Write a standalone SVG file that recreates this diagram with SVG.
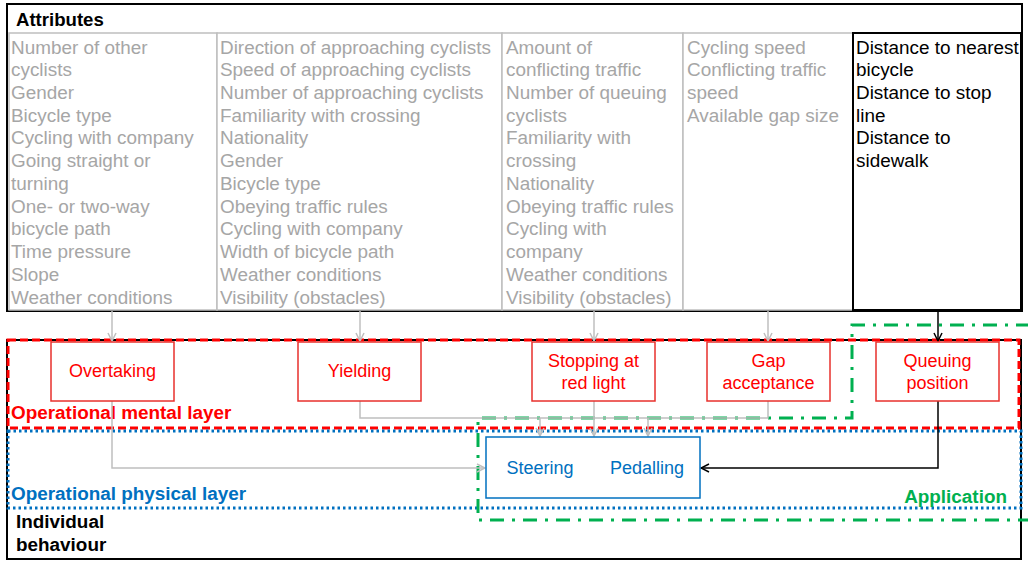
<svg xmlns="http://www.w3.org/2000/svg" width="1028" height="562" viewBox="0 0 1028 562">
<style>
text{font-family:"Liberation Sans",Arial,sans-serif;}
.attr{font-size:18.9px;fill:#a6a6a6;}
.attrb{font-size:18.9px;fill:#000;}
.hdr{font-size:18.6px;font-weight:bold;fill:#000;}
.col{fill:#fff;stroke:#bfbfbf;stroke-width:1.5;}
.node rect{fill:#fff;stroke:#e8302c;stroke-width:1.5;}
.node text{font-size:18px;fill:#ff0000;text-anchor:middle;}
.g{fill:none;stroke:#bfbfbf;stroke-width:1.5;}
.k{fill:none;stroke:#000;stroke-width:1.5;}
.lay{font-size:18.9px;font-weight:bold;}
</style>
<defs>
<marker id="ag" viewBox="0 0 10 10" refX="9" refY="5" markerWidth="10" markerHeight="10" markerUnits="userSpaceOnUse" orient="auto"><path d="M1,1 L9,5 L1,9" fill="none" stroke="#bfbfbf" stroke-width="1.5"/></marker>
<marker id="ak" viewBox="0 0 10 10" refX="9" refY="5" markerWidth="10" markerHeight="10" markerUnits="userSpaceOnUse" orient="auto"><path d="M1,1 L9,5 L1,9" fill="none" stroke="#000" stroke-width="1.5"/></marker>
</defs>

<g id="attributes">
<rect x="7" y="4" width="1015" height="307" fill="#fff" stroke="#000" stroke-width="2"/>
<text class="hdr" x="16" y="26">Attributes</text>
<rect class="col" x="9" y="33" width="208" height="277"/>
<rect class="col" x="217" y="33" width="285" height="277"/>
<rect class="col" x="502" y="33" width="181" height="277"/>
<rect class="col" x="683" y="33" width="170" height="277"/>
<rect x="853" y="33" width="168" height="277" fill="#fff" stroke="#000" stroke-width="2"/>
<text class="attr" x="11" y="53.5"><tspan x="11">Number of other</tspan><tspan x="11" dy="22.73">cyclists</tspan><tspan x="11" dy="22.73">Gender</tspan><tspan x="11" dy="22.73">Bicycle type</tspan><tspan x="11" dy="22.73">Cycling with company</tspan><tspan x="11" dy="22.73">Going straight or</tspan><tspan x="11" dy="22.73">turning</tspan><tspan x="11" dy="22.73">One- or two-way</tspan><tspan x="11" dy="22.73">bicycle path</tspan><tspan x="11" dy="22.73">Time pressure</tspan><tspan x="11" dy="22.73">Slope</tspan><tspan x="11" dy="22.73">Weather conditions</tspan></text>
<text class="attr" x="220" y="53.5"><tspan x="220">Direction of approaching cyclists</tspan><tspan x="220" dy="22.73">Speed of approaching cyclists</tspan><tspan x="220" dy="22.73">Number of approaching cyclists</tspan><tspan x="220" dy="22.73">Familiarity with crossing</tspan><tspan x="220" dy="22.73">Nationality</tspan><tspan x="220" dy="22.73">Gender</tspan><tspan x="220" dy="22.73">Bicycle type</tspan><tspan x="220" dy="22.73">Obeying traffic rules</tspan><tspan x="220" dy="22.73">Cycling with company</tspan><tspan x="220" dy="22.73">Width of bicycle path</tspan><tspan x="220" dy="22.73">Weather conditions</tspan><tspan x="220" dy="22.73">Visibility (obstacles)</tspan></text>
<text class="attr" x="506" y="53.5"><tspan x="506">Amount of</tspan><tspan x="506" dy="22.73">conflicting traffic</tspan><tspan x="506" dy="22.73">Number of queuing</tspan><tspan x="506" dy="22.73">cyclists</tspan><tspan x="506" dy="22.73">Familiarity with</tspan><tspan x="506" dy="22.73">crossing</tspan><tspan x="506" dy="22.73">Nationality</tspan><tspan x="506" dy="22.73">Obeying traffic rules</tspan><tspan x="506" dy="22.73">Cycling with</tspan><tspan x="506" dy="22.73">company</tspan><tspan x="506" dy="22.73">Weather conditions</tspan><tspan x="506" dy="22.73">Visibility (obstacles)</tspan></text>
<text class="attr" x="687" y="53.5"><tspan x="687">Cycling speed</tspan><tspan x="687" dy="22.73">Conflicting traffic</tspan><tspan x="687" dy="22.73">speed</tspan><tspan x="687" dy="22.73">Available gap size</tspan></text>
<text class="attrb" x="856" y="53.5"><tspan x="856">Distance to nearest</tspan><tspan x="856" dy="22.73">bicycle</tspan><tspan x="856" dy="22.73">Distance to stop</tspan><tspan x="856" dy="22.73">line</tspan><tspan x="856" dy="22.73">Distance to</tspan><tspan x="856" dy="22.73">sidewalk</tspan></text>
</g>

<g id="individual-behaviour">
<rect x="7" y="340" width="1014" height="219" fill="#fff" stroke="#000" stroke-width="2"/>
<text class="lay" x="16" y="528" fill="#000"><tspan x="16">Individual</tspan><tspan x="16" dy="23">behaviour</tspan></text>
</g>

<g id="operational-mental-layer">
<rect x="8" y="340" width="1011" height="88" fill="none" stroke="#ff0000" stroke-width="3" stroke-dasharray="8 4"/>
<text class="lay" x="11" y="419" fill="#ff0000">Operational mental layer</text>
</g>

<g id="operational-physical-layer">
<rect x="8" y="431" width="1013" height="77" fill="none" stroke="#0070c0" stroke-width="3" stroke-dasharray="2.5 3"/>
<text class="lay" x="11" y="500" fill="#0070c0">Operational physical layer</text>
</g>

<g id="application">
<path d="M1030,325 L852,325 L852,418 L478,418 L478,520 L1030,520" fill="none" stroke="#00b050" stroke-width="3" stroke-dasharray="14 8 3 8"/>
<text class="lay" x="1007" y="503" fill="#00b050" text-anchor="end">Application</text>
</g>

<g id="connectors">
<path class="g" d="M112,311 V341" marker-end="url(#ag)"/>
<path class="g" d="M360,311 V341" marker-end="url(#ag)"/>
<path class="g" d="M594,311 V341" marker-end="url(#ag)"/>
<path class="g" d="M768,311 V341" marker-end="url(#ag)"/>
<path class="k" d="M938,311 V341" marker-end="url(#ak)"/>
<path class="g" d="M112,401 V468 H485" marker-end="url(#ag)"/>
<path class="g" d="M360,401 V418 H768 V401"/>
<path class="g" d="M540,418 V436" marker-end="url(#ag)"/>
<path class="g" d="M648,418 V436" marker-end="url(#ag)"/>
<path class="g" d="M594,401 V436" marker-end="url(#ag)"/>
<path class="k" d="M938,401 V468 H701" marker-end="url(#ak)"/>
</g>

<g id="overtaking" class="node"><rect x="51" y="342" width="123" height="59"/><text x="112.5" y="377">Overtaking</text></g>
<g id="yielding" class="node"><rect x="298" y="342" width="123" height="59"/><text x="359.5" y="377">Yielding</text></g>
<g id="stopping" class="node"><rect x="532" y="342" width="123" height="59"/><text x="593.5" y="366.5">Stopping at</text><text x="593.5" y="389">red light</text></g>
<g id="gap-acceptance" class="node"><rect x="707" y="342" width="123" height="59"/><text x="768.5" y="366.5">Gap</text><text x="768.5" y="389">acceptance</text></g>
<g id="queuing-position" class="node"><rect x="876" y="342" width="123" height="59"/><text x="937.5" y="366.5">Queuing</text><text x="937.5" y="389">position</text></g>

<g id="steering-pedalling">
<rect x="486" y="437" width="214" height="61" fill="#fff" stroke="#0070c0" stroke-width="1.5"/>
<text x="540" y="474" font-size="18" fill="#0070c0" text-anchor="middle">Steering</text>
<text x="647" y="474" font-size="18" fill="#0070c0" text-anchor="middle">Pedalling</text>
</g>
</svg>
